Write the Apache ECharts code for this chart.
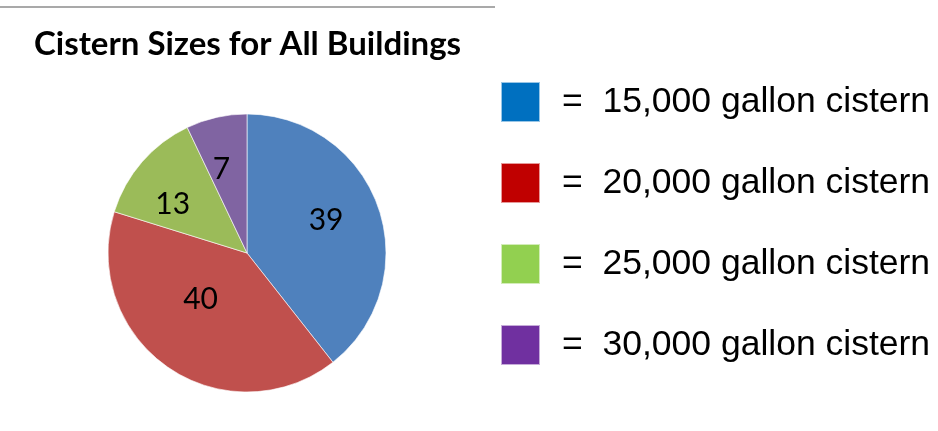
<!DOCTYPE html>
<html>
<head>
<meta charset="utf-8">
<title>Cistern Sizes for All Buildings</title>
<script src="https://cdn.jsdelivr.net/npm/echarts@6/dist/echarts.min.js"></script>
<style>
  html, body { margin: 0; padding: 0; background: #fff; }
  #main { width: 938px; height: 431px; }
</style>
</head>
<body>
<div id="main"></div>
<script>
// chart data
var categories = ['15,000 gallon cistern', '20,000 gallon cistern', '25,000 gallon cistern', '30,000 gallon cistern'];
var counts = [39, 40, 13, 7];
var sliceColors = ['#4F81BD', '#C0504D', '#9BBB59', '#8064A2'];
var legendColors = ['#0070C0', '#C00000', '#92D050', '#7030A0'];
// small nudges so the value labels sit where Excel's "best fit" put them
var labelNudge = [[-5, -4], [4, -27], [-7, 10], [-6, 3]];

var myChart = echarts.init(document.getElementById('main'), null, { renderer: 'canvas' });

function initOption() {
    var pieData = categories.map(function (name, i) {
        return { name: name, value: counts[i], itemStyle: { color: sliceColors[i] } };
    });
    // transparent copy, only used to place the value labels a bit further out
    var labelData = categories.map(function (name, i) {
        return {
            name: name,
            value: counts[i],
            itemStyle: { color: 'rgba(0,0,0,0)' },
            label: { offset: labelNudge[i] }
        };
    });
    var legendData = categories.map(function (name, i) {
        return { name: name, icon: 'rect', itemStyle: { color: legendColors[i] } };
    });

    var option = {
        backgroundColor: '#fff',
        animation: false,
        title: {
            text: 'Cistern Sizes for All Buildings',
            left: 34,
            top: 28,
            padding: 0,
            textStyle: {
                fontFamily: 'Lato',
                fontWeight: 'bold',
                fontSize: 33,
                color: '#000'
            }
        },
        legend: {
            orient: 'vertical',
            left: 500,
            top: 78,
            padding: 0,
            itemWidth: 39,
            itemHeight: 40,
            itemGap: 33,
            selectedMode: false,
            data: legendData,
            formatter: function (name) { return '=  ' + name; },
            textStyle: {
                fontFamily: 'Liberation Sans',
                fontSize: 35.5,
                lineHeight: 40,
                color: '#000',
                padding: [8, 0, 0, 17]
            }
        },
        graphic: [{
            type: 'line',
            shape: { x1: 0, y1: 7, x2: 495, y2: 7 },
            style: { stroke: '#8c8c8c', lineWidth: 1.5 },
            silent: true
        }],
        series: [
            {
                type: 'pie',
                center: [247, 253],
                radius: 139,
                startAngle: 90,
                clockwise: true,
                silent: true,
                label: { show: false },
                labelLine: { show: false },
                itemStyle: { borderColor: 'rgba(255,255,255,0.6)', borderWidth: 1 },
                data: pieData
            },
            {
                type: 'pie',
                center: [247, 253],
                radius: 172,
                startAngle: 90,
                clockwise: true,
                silent: true,
                z: 3,
                label: {
                    show: true,
                    position: 'inside',
                    formatter: '{c}',
                    fontFamily: 'Lato',
                    fontSize: 30,
                    color: '#000'
                },
                labelLine: { show: false },
                itemStyle: { borderWidth: 0 },
                data: labelData
            }
        ]
    };
    return option;
}

myChart.setOption(initOption());
</script>
</body>
</html>
